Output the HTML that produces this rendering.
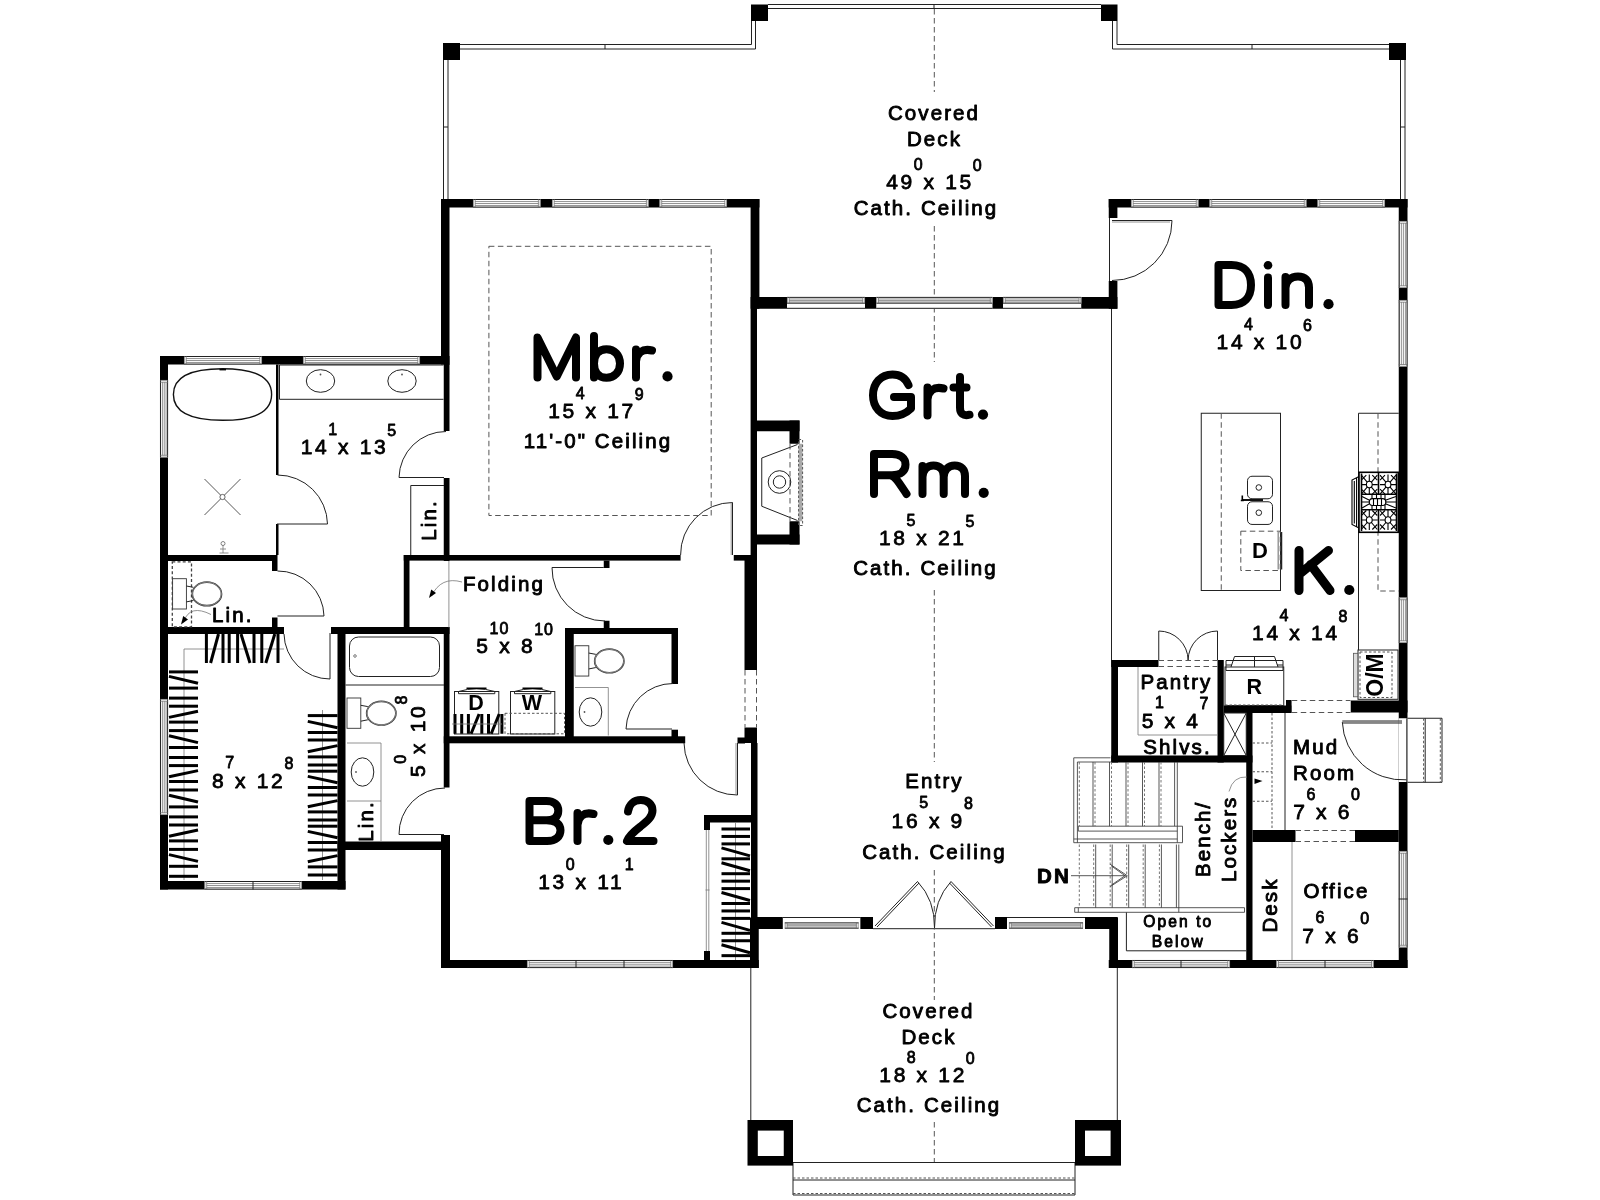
<!DOCTYPE html>
<html><head><meta charset="utf-8"><title>Floor Plan</title>
<style>
html,body{margin:0;padding:0;background:#fff;}
body{width:1600px;height:1200px;overflow:hidden;font-family:"Liberation Sans",sans-serif;}
svg{display:block;will-change:transform}
.w{fill:#000}
.wf{fill:#fff}
.t{stroke:#222;stroke-width:1;fill:none}
.t2{stroke:#000;stroke-width:1.6;fill:none}
.g{stroke:#777;stroke-width:0.8;fill:none}
.wl{stroke:#666;stroke-width:0.7;fill:none}
.st{stroke:#3a3a3a;stroke-width:0.85;fill:none}
.sd{stroke:#666;stroke-width:0.9;fill:none;stroke-dasharray:2.5 2}
.d{stroke:#555;stroke-width:1;fill:none;stroke-dasharray:5.5 3.5}
.ds{stroke:#555;stroke-width:1;fill:none;stroke-dasharray:2.5 2}
.h{stroke:#000;stroke-width:3;fill:none}
text{font-family:"Liberation Sans",sans-serif;fill:#000}
.tx{stroke:#000;stroke-width:0.9;letter-spacing:2.1px;stroke-linejoin:round}
.dm{stroke:#000;stroke-width:0.8;stroke-linejoin:round}
.bd{font-weight:bold}
.big{stroke:#000;stroke-width:2.6;stroke-linejoin:round;stroke-linecap:round}
.tb{stroke:#111;stroke-width:1.4;fill:none}
.fa{stroke:#111;stroke-width:2;fill:none}
.rw{stroke:#000;stroke-width:1.1;fill:none}
.gf{fill:#aaa}
</style></head><body>
<svg width="1600" height="1200" viewBox="0 0 1600 1200">
<rect x="0" y="0" width="1600" height="1200" fill="#fff"/>
<rect class="wf" x="768.00" y="4.50" width="333.00" height="4.00"/>
<line class="t" x1="768.00" y1="4.50" x2="1101.00" y2="4.50"/>
<line class="t" x1="768.00" y1="8.50" x2="1101.00" y2="8.50"/>
<line class="t" x1="934.00" y1="4.50" x2="934.00" y2="8.50"/>
<path class="t" d="M460 44.5 H751.5 V21 M755.5 21 V49 H460"/>
<line class="t" x1="605.00" y1="44.50" x2="605.00" y2="49.00"/>
<path class="t" d="M1389 44.5 H1117 V21 M1112.5 21 V49 H1389"/>
<line class="t" x1="1252.00" y1="44.50" x2="1252.00" y2="49.00"/>
<path class="t" d="M443.5 60 V199 M448 60 V199"/>
<line class="t" x1="443.50" y1="127.00" x2="448.00" y2="127.00"/>
<path class="t" d="M1400.5 60 V199 M1405 60 V199"/>
<line class="t" x1="1400.50" y1="127.00" x2="1405.00" y2="127.00"/>
<line class="d" x1="934.30" y1="9.00" x2="934.30" y2="92.00"/>
<line class="d" x1="934.30" y1="226.00" x2="934.30" y2="362.00"/>
<line class="d" x1="934.30" y1="590.00" x2="934.30" y2="762.00"/>
<line class="d" x1="934.30" y1="870.00" x2="934.30" y2="1000.00"/>
<line class="d" x1="934.30" y1="1122.00" x2="934.30" y2="1162.00"/>
<line class="t" x1="750.80" y1="968.00" x2="750.80" y2="1120.00"/>
<line class="t" x1="1117.30" y1="968.00" x2="1117.30" y2="1120.00"/>
<path class="t" d="M793 1162.5 H1075 M793 1162.5 V1195 H1075 V1162.5 M793 1180 H1075"/>
<line class="ds" x1="793.00" y1="1178.00" x2="1075.00" y2="1178.00"/>
<line class="ds" x1="793.00" y1="1193.50" x2="1075.00" y2="1193.50"/>
<line class="t" x1="1111.50" y1="308.00" x2="1111.50" y2="660.00"/>
<rect class="w" x="160.00" y="356.00" width="289.50" height="8.50"/>
<rect class="w" x="160.00" y="356.00" width="8.00" height="533.50"/>
<rect class="w" x="168.00" y="555.00" width="109.50" height="6.00"/>
<rect class="w" x="272.00" y="561.00" width="5.50" height="10.00"/>
<rect class="w" x="160.00" y="627.00" width="124.00" height="7.00"/>
<rect class="w" x="272.00" y="617.50" width="5.50" height="9.50"/>
<rect class="w" x="160.00" y="881.00" width="185.50" height="8.50"/>
<rect class="w" x="337.50" y="627.00" width="8.00" height="262.50"/>
<rect class="w" x="331.00" y="627.00" width="118.50" height="7.00"/>
<rect class="w" x="276.00" y="364.50" width="2.50" height="110.50"/>
<rect class="w" x="276.00" y="524.00" width="2.50" height="31.00"/>
<rect class="w" x="441.00" y="199.00" width="318.40" height="8.50"/>
<rect class="w" x="441.00" y="199.00" width="8.50" height="165.50"/>
<rect class="w" x="443.75" y="364.00" width="5.75" height="67.00"/>
<rect class="w" x="443.75" y="478.00" width="5.75" height="83.00"/>
<rect class="w" x="750.60" y="199.00" width="8.80" height="109.75"/>
<rect class="w" x="750.60" y="297.00" width="6.40" height="258.00"/>
<rect class="w" x="744.50" y="555.00" width="12.50" height="115.00"/>
<rect class="w" x="744.50" y="727.50" width="12.50" height="15.50"/>
<rect class="w" x="737.50" y="737.50" width="7.50" height="6.00"/>
<rect class="w" x="751.00" y="743.00" width="6.50" height="178.00"/>
<rect class="w" x="403.75" y="555.00" width="276.85" height="5.60"/>
<rect class="w" x="733.75" y="555.00" width="17.25" height="5.60"/>
<rect class="w" x="403.75" y="555.00" width="5.75" height="79.00"/>
<rect class="w" x="443.75" y="627.00" width="5.75" height="160.50"/>
<rect class="w" x="443.75" y="736.30" width="241.45" height="7.00"/>
<rect class="w" x="565.00" y="628.00" width="8.75" height="115.00"/>
<rect class="w" x="565.00" y="628.00" width="113.00" height="6.00"/>
<rect class="w" x="671.50" y="628.00" width="6.50" height="56.00"/>
<rect class="w" x="671.50" y="729.70" width="6.50" height="13.30"/>
<rect class="w" x="603.75" y="560.60" width="5.75" height="7.40"/>
<rect class="w" x="603.75" y="620.75" width="5.75" height="7.25"/>
<rect class="w" x="337.50" y="841.50" width="112.00" height="8.50"/>
<rect class="w" x="441.00" y="835.00" width="9.00" height="133.00"/>
<rect class="w" x="441.00" y="960.00" width="317.75" height="8.00"/>
<rect class="w" x="750.00" y="917.50" width="8.75" height="50.50"/>
<rect class="w" x="704.00" y="815.00" width="47.00" height="7.50"/>
<rect class="w" x="704.00" y="815.00" width="6.00" height="15.00"/>
<rect class="w" x="704.00" y="951.00" width="6.00" height="9.00"/>
<rect class="w" x="757.00" y="297.00" width="360.40" height="11.75"/>
<rect class="w" x="757.00" y="420.50" width="42.50" height="10.75"/>
<rect class="w" x="789.50" y="420.50" width="10.00" height="23.25"/>
<rect class="w" x="757.00" y="534.50" width="42.50" height="10.00"/>
<rect class="w" x="789.50" y="521.25" width="10.00" height="23.25"/>
<rect class="w" x="757.00" y="917.00" width="360.00" height="12.00"/>
<rect class="w" x="1086.25" y="917.50" width="31.75" height="11.00"/>
<rect class="w" x="1109.25" y="917.50" width="8.75" height="50.50"/>
<rect class="w" x="1108.75" y="199.00" width="298.75" height="8.50"/>
<rect class="w" x="1108.75" y="199.00" width="8.65" height="19.00"/>
<rect class="w" x="1108.75" y="281.00" width="8.65" height="27.75"/>
<rect class="w" x="1398.75" y="199.00" width="8.75" height="769.00"/>
<rect class="w" x="1111.25" y="660.00" width="47.25" height="7.00"/>
<rect class="w" x="1111.25" y="660.00" width="6.75" height="102.50"/>
<rect class="w" x="1217.50" y="660.00" width="6.25" height="102.50"/>
<rect class="w" x="1111.25" y="755.50" width="141.25" height="7.00"/>
<rect class="w" x="1223.75" y="705.50" width="68.00" height="7.50"/>
<rect class="w" x="1286.00" y="700.00" width="5.75" height="13.00"/>
<rect class="w" x="1350.50" y="700.50" width="57.00" height="12.00"/>
<rect class="w" x="1246.25" y="713.00" width="6.25" height="255.00"/>
<rect class="w" x="1252.50" y="830.00" width="43.00" height="12.00"/>
<rect class="w" x="1355.00" y="830.00" width="43.75" height="12.00"/>
<rect class="w" x="1108.75" y="960.00" width="298.75" height="8.00"/>
<rect class="w" x="751.00" y="4.50" width="17.00" height="16.50"/>
<rect class="w" x="1101.00" y="4.50" width="16.50" height="16.50"/>
<rect class="w" x="443.00" y="43.00" width="17.00" height="17.00"/>
<rect class="w" x="1389.00" y="43.00" width="17.00" height="17.00"/>
<rect class="w" x="747.50" y="1120.00" width="45.50" height="45.60"/>
<rect class="wf" x="757.80" y="1130.60" width="25.95" height="25.40"/>
<rect class="w" x="1075.00" y="1120.00" width="46.00" height="45.60"/>
<rect class="wf" x="1085.00" y="1130.60" width="25.60" height="25.40"/>
<rect class="wf" x="184.00" y="356.00" width="78.00" height="8.50"/>
<line class="t" x1="184.00" y1="356.51" x2="262.00" y2="356.51"/>
<line class="wl" x1="186.20" y1="358.55" x2="259.80" y2="358.55"/>
<line class="wl" x1="186.20" y1="360.50" x2="259.80" y2="360.50"/>
<line class="wl" x1="186.20" y1="362.46" x2="259.80" y2="362.46"/>
<line class="t" x1="184.00" y1="364.07" x2="262.00" y2="364.07"/>
<line class="wl" x1="184.40" y1="356.00" x2="184.40" y2="364.50"/>
<line class="wl" x1="261.60" y1="356.00" x2="261.60" y2="364.50"/>
<line class="wl" x1="186.20" y1="356.00" x2="186.20" y2="364.50"/>
<line class="wl" x1="259.80" y1="356.00" x2="259.80" y2="364.50"/>
<rect class="wf" x="303.00" y="356.00" width="117.00" height="8.50"/>
<line class="t" x1="303.00" y1="356.51" x2="420.00" y2="356.51"/>
<line class="wl" x1="305.20" y1="358.55" x2="417.80" y2="358.55"/>
<line class="wl" x1="305.20" y1="360.50" x2="417.80" y2="360.50"/>
<line class="wl" x1="305.20" y1="362.46" x2="417.80" y2="362.46"/>
<line class="t" x1="303.00" y1="364.07" x2="420.00" y2="364.07"/>
<line class="wl" x1="303.40" y1="356.00" x2="303.40" y2="364.50"/>
<line class="wl" x1="419.60" y1="356.00" x2="419.60" y2="364.50"/>
<line class="wl" x1="305.20" y1="356.00" x2="305.20" y2="364.50"/>
<line class="wl" x1="417.80" y1="356.00" x2="417.80" y2="364.50"/>
<rect class="wf" x="160.00" y="380.00" width="8.00" height="77.50"/>
<line class="t" x1="160.48" y1="380.00" x2="160.48" y2="457.50"/>
<line class="wl" x1="162.40" y1="382.20" x2="162.40" y2="455.30"/>
<line class="wl" x1="164.24" y1="382.20" x2="164.24" y2="455.30"/>
<line class="wl" x1="166.08" y1="382.20" x2="166.08" y2="455.30"/>
<line class="t" x1="167.60" y1="380.00" x2="167.60" y2="457.50"/>
<line class="wl" x1="160.00" y1="380.40" x2="168.00" y2="380.40"/>
<line class="wl" x1="160.00" y1="457.10" x2="168.00" y2="457.10"/>
<line class="wl" x1="160.00" y1="382.20" x2="168.00" y2="382.20"/>
<line class="wl" x1="160.00" y1="455.30" x2="168.00" y2="455.30"/>
<rect class="wf" x="160.00" y="699.00" width="8.00" height="116.00"/>
<line class="t" x1="160.48" y1="699.00" x2="160.48" y2="815.00"/>
<line class="wl" x1="162.40" y1="701.20" x2="162.40" y2="812.80"/>
<line class="wl" x1="164.24" y1="701.20" x2="164.24" y2="812.80"/>
<line class="wl" x1="166.08" y1="701.20" x2="166.08" y2="812.80"/>
<line class="t" x1="167.60" y1="699.00" x2="167.60" y2="815.00"/>
<line class="wl" x1="160.00" y1="699.40" x2="168.00" y2="699.40"/>
<line class="wl" x1="160.00" y1="814.60" x2="168.00" y2="814.60"/>
<line class="wl" x1="160.00" y1="701.20" x2="168.00" y2="701.20"/>
<line class="wl" x1="160.00" y1="812.80" x2="168.00" y2="812.80"/>
<rect class="wf" x="204.50" y="881.00" width="97.50" height="8.50"/>
<line class="t" x1="204.50" y1="881.51" x2="302.00" y2="881.51"/>
<line class="wl" x1="206.70" y1="883.55" x2="299.80" y2="883.55"/>
<line class="wl" x1="206.70" y1="885.50" x2="299.80" y2="885.50"/>
<line class="wl" x1="206.70" y1="887.46" x2="299.80" y2="887.46"/>
<line class="t" x1="204.50" y1="889.08" x2="302.00" y2="889.08"/>
<line class="wl" x1="204.90" y1="881.00" x2="204.90" y2="889.50"/>
<line class="wl" x1="301.60" y1="881.00" x2="301.60" y2="889.50"/>
<line class="wl" x1="206.70" y1="881.00" x2="206.70" y2="889.50"/>
<line class="wl" x1="299.80" y1="881.00" x2="299.80" y2="889.50"/>
<line class="t" x1="253.00" y1="881.00" x2="253.00" y2="889.50"/>
<rect class="wf" x="473.00" y="199.00" width="67.60" height="8.50"/>
<line class="t" x1="473.00" y1="199.51" x2="540.60" y2="199.51"/>
<line class="wl" x1="475.20" y1="201.55" x2="538.40" y2="201.55"/>
<line class="wl" x1="475.20" y1="203.50" x2="538.40" y2="203.50"/>
<line class="wl" x1="475.20" y1="205.46" x2="538.40" y2="205.46"/>
<line class="t" x1="473.00" y1="207.07" x2="540.60" y2="207.07"/>
<line class="wl" x1="473.40" y1="199.00" x2="473.40" y2="207.50"/>
<line class="wl" x1="540.20" y1="199.00" x2="540.20" y2="207.50"/>
<line class="wl" x1="475.20" y1="199.00" x2="475.20" y2="207.50"/>
<line class="wl" x1="538.40" y1="199.00" x2="538.40" y2="207.50"/>
<rect class="wf" x="552.00" y="199.00" width="96.60" height="8.50"/>
<line class="t" x1="552.00" y1="199.51" x2="648.60" y2="199.51"/>
<line class="wl" x1="554.20" y1="201.55" x2="646.40" y2="201.55"/>
<line class="wl" x1="554.20" y1="203.50" x2="646.40" y2="203.50"/>
<line class="wl" x1="554.20" y1="205.46" x2="646.40" y2="205.46"/>
<line class="t" x1="552.00" y1="207.07" x2="648.60" y2="207.07"/>
<line class="wl" x1="552.40" y1="199.00" x2="552.40" y2="207.50"/>
<line class="wl" x1="648.20" y1="199.00" x2="648.20" y2="207.50"/>
<line class="wl" x1="554.20" y1="199.00" x2="554.20" y2="207.50"/>
<line class="wl" x1="646.40" y1="199.00" x2="646.40" y2="207.50"/>
<rect class="wf" x="659.50" y="199.00" width="67.50" height="8.50"/>
<line class="t" x1="659.50" y1="199.51" x2="727.00" y2="199.51"/>
<line class="wl" x1="661.70" y1="201.55" x2="724.80" y2="201.55"/>
<line class="wl" x1="661.70" y1="203.50" x2="724.80" y2="203.50"/>
<line class="wl" x1="661.70" y1="205.46" x2="724.80" y2="205.46"/>
<line class="t" x1="659.50" y1="207.07" x2="727.00" y2="207.07"/>
<line class="wl" x1="659.90" y1="199.00" x2="659.90" y2="207.50"/>
<line class="wl" x1="726.60" y1="199.00" x2="726.60" y2="207.50"/>
<line class="wl" x1="661.70" y1="199.00" x2="661.70" y2="207.50"/>
<line class="wl" x1="724.80" y1="199.00" x2="724.80" y2="207.50"/>
<rect class="wf" x="527.00" y="960.00" width="146.00" height="8.00"/>
<line class="t" x1="527.00" y1="960.48" x2="673.00" y2="960.48"/>
<line class="wl" x1="529.20" y1="962.40" x2="670.80" y2="962.40"/>
<line class="wl" x1="529.20" y1="964.24" x2="670.80" y2="964.24"/>
<line class="wl" x1="529.20" y1="966.08" x2="670.80" y2="966.08"/>
<line class="t" x1="527.00" y1="967.60" x2="673.00" y2="967.60"/>
<line class="wl" x1="527.40" y1="960.00" x2="527.40" y2="968.00"/>
<line class="wl" x1="672.60" y1="960.00" x2="672.60" y2="968.00"/>
<line class="wl" x1="529.20" y1="960.00" x2="529.20" y2="968.00"/>
<line class="wl" x1="670.80" y1="960.00" x2="670.80" y2="968.00"/>
<line class="t" x1="576.00" y1="960.00" x2="576.00" y2="968.00"/>
<line class="t" x1="624.00" y1="960.00" x2="624.00" y2="968.00"/>
<rect class="wf" x="787.00" y="297.00" width="78.00" height="11.75"/>
<rect class="wf" x="787.00" y="297.00" width="78.00" height="6.50"/>
<line class="t" x1="787.00" y1="297.39" x2="865.00" y2="297.39"/>
<line class="wl" x1="789.20" y1="298.95" x2="862.80" y2="298.95"/>
<line class="wl" x1="789.20" y1="300.44" x2="862.80" y2="300.44"/>
<line class="wl" x1="789.20" y1="301.94" x2="862.80" y2="301.94"/>
<line class="t" x1="787.00" y1="303.18" x2="865.00" y2="303.18"/>
<line class="wl" x1="787.40" y1="297.00" x2="787.40" y2="303.50"/>
<line class="wl" x1="864.60" y1="297.00" x2="864.60" y2="303.50"/>
<line class="wl" x1="789.20" y1="297.00" x2="789.20" y2="303.50"/>
<line class="wl" x1="862.80" y1="297.00" x2="862.80" y2="303.50"/>
<line class="t" x1="787.00" y1="308.30" x2="865.00" y2="308.30"/>
<rect class="wf" x="876.25" y="297.00" width="116.25" height="11.75"/>
<rect class="wf" x="876.25" y="297.00" width="116.25" height="6.50"/>
<line class="t" x1="876.25" y1="297.39" x2="992.50" y2="297.39"/>
<line class="wl" x1="878.45" y1="298.95" x2="990.30" y2="298.95"/>
<line class="wl" x1="878.45" y1="300.44" x2="990.30" y2="300.44"/>
<line class="wl" x1="878.45" y1="301.94" x2="990.30" y2="301.94"/>
<line class="t" x1="876.25" y1="303.18" x2="992.50" y2="303.18"/>
<line class="wl" x1="876.65" y1="297.00" x2="876.65" y2="303.50"/>
<line class="wl" x1="992.10" y1="297.00" x2="992.10" y2="303.50"/>
<line class="wl" x1="878.45" y1="297.00" x2="878.45" y2="303.50"/>
<line class="wl" x1="990.30" y1="297.00" x2="990.30" y2="303.50"/>
<line class="t" x1="876.25" y1="308.30" x2="992.50" y2="308.30"/>
<rect class="wf" x="1003.00" y="297.00" width="78.25" height="11.75"/>
<rect class="wf" x="1003.00" y="297.00" width="78.25" height="6.50"/>
<line class="t" x1="1003.00" y1="297.39" x2="1081.25" y2="297.39"/>
<line class="wl" x1="1005.20" y1="298.95" x2="1079.05" y2="298.95"/>
<line class="wl" x1="1005.20" y1="300.44" x2="1079.05" y2="300.44"/>
<line class="wl" x1="1005.20" y1="301.94" x2="1079.05" y2="301.94"/>
<line class="t" x1="1003.00" y1="303.18" x2="1081.25" y2="303.18"/>
<line class="wl" x1="1003.40" y1="297.00" x2="1003.40" y2="303.50"/>
<line class="wl" x1="1080.85" y1="297.00" x2="1080.85" y2="303.50"/>
<line class="wl" x1="1005.20" y1="297.00" x2="1005.20" y2="303.50"/>
<line class="wl" x1="1079.05" y1="297.00" x2="1079.05" y2="303.50"/>
<line class="t" x1="1003.00" y1="308.30" x2="1081.25" y2="308.30"/>
<rect class="wf" x="782.80" y="917.00" width="77.80" height="12.00"/>
<line class="t" x1="782.80" y1="917.50" x2="860.60" y2="917.50"/>
<rect class="wf" x="784.80" y="922.50" width="73.80" height="6.00"/>
<line class="t" x1="784.80" y1="922.86" x2="858.60" y2="922.86"/>
<line class="wl" x1="787.00" y1="924.30" x2="856.40" y2="924.30"/>
<line class="wl" x1="787.00" y1="925.68" x2="856.40" y2="925.68"/>
<line class="wl" x1="787.00" y1="927.06" x2="856.40" y2="927.06"/>
<line class="t" x1="784.80" y1="928.20" x2="858.60" y2="928.20"/>
<line class="wl" x1="785.20" y1="922.50" x2="785.20" y2="928.50"/>
<line class="wl" x1="858.20" y1="922.50" x2="858.20" y2="928.50"/>
<line class="wl" x1="787.00" y1="922.50" x2="787.00" y2="928.50"/>
<line class="wl" x1="856.40" y1="922.50" x2="856.40" y2="928.50"/>
<rect class="wf" x="1007.00" y="917.00" width="78.00" height="12.00"/>
<line class="t" x1="1007.00" y1="917.50" x2="1085.00" y2="917.50"/>
<rect class="wf" x="1009.00" y="922.50" width="74.00" height="6.00"/>
<line class="t" x1="1009.00" y1="922.86" x2="1083.00" y2="922.86"/>
<line class="wl" x1="1011.20" y1="924.30" x2="1080.80" y2="924.30"/>
<line class="wl" x1="1011.20" y1="925.68" x2="1080.80" y2="925.68"/>
<line class="wl" x1="1011.20" y1="927.06" x2="1080.80" y2="927.06"/>
<line class="t" x1="1009.00" y1="928.20" x2="1083.00" y2="928.20"/>
<line class="wl" x1="1009.40" y1="922.50" x2="1009.40" y2="928.50"/>
<line class="wl" x1="1082.60" y1="922.50" x2="1082.60" y2="928.50"/>
<line class="wl" x1="1011.20" y1="922.50" x2="1011.20" y2="928.50"/>
<line class="wl" x1="1080.80" y1="922.50" x2="1080.80" y2="928.50"/>
<rect class="wf" x="873.00" y="917.00" width="122.00" height="12.00"/>
<line class="t" x1="873.00" y1="928.70" x2="995.00" y2="928.70"/>
<rect class="w" x="860.60" y="917.00" width="12.40" height="12.00"/>
<rect class="w" x="995.00" y="917.00" width="12.00" height="12.00"/>
<rect class="wf" x="1131.00" y="199.00" width="67.50" height="8.50"/>
<line class="t" x1="1131.00" y1="199.51" x2="1198.50" y2="199.51"/>
<line class="wl" x1="1133.20" y1="201.55" x2="1196.30" y2="201.55"/>
<line class="wl" x1="1133.20" y1="203.50" x2="1196.30" y2="203.50"/>
<line class="wl" x1="1133.20" y1="205.46" x2="1196.30" y2="205.46"/>
<line class="t" x1="1131.00" y1="207.07" x2="1198.50" y2="207.07"/>
<line class="wl" x1="1131.40" y1="199.00" x2="1131.40" y2="207.50"/>
<line class="wl" x1="1198.10" y1="199.00" x2="1198.10" y2="207.50"/>
<line class="wl" x1="1133.20" y1="199.00" x2="1133.20" y2="207.50"/>
<line class="wl" x1="1196.30" y1="199.00" x2="1196.30" y2="207.50"/>
<rect class="wf" x="1209.50" y="199.00" width="97.00" height="8.50"/>
<line class="t" x1="1209.50" y1="199.51" x2="1306.50" y2="199.51"/>
<line class="wl" x1="1211.70" y1="201.55" x2="1304.30" y2="201.55"/>
<line class="wl" x1="1211.70" y1="203.50" x2="1304.30" y2="203.50"/>
<line class="wl" x1="1211.70" y1="205.46" x2="1304.30" y2="205.46"/>
<line class="t" x1="1209.50" y1="207.07" x2="1306.50" y2="207.07"/>
<line class="wl" x1="1209.90" y1="199.00" x2="1209.90" y2="207.50"/>
<line class="wl" x1="1306.10" y1="199.00" x2="1306.10" y2="207.50"/>
<line class="wl" x1="1211.70" y1="199.00" x2="1211.70" y2="207.50"/>
<line class="wl" x1="1304.30" y1="199.00" x2="1304.30" y2="207.50"/>
<rect class="wf" x="1317.50" y="199.00" width="67.50" height="8.50"/>
<line class="t" x1="1317.50" y1="199.51" x2="1385.00" y2="199.51"/>
<line class="wl" x1="1319.70" y1="201.55" x2="1382.80" y2="201.55"/>
<line class="wl" x1="1319.70" y1="203.50" x2="1382.80" y2="203.50"/>
<line class="wl" x1="1319.70" y1="205.46" x2="1382.80" y2="205.46"/>
<line class="t" x1="1317.50" y1="207.07" x2="1385.00" y2="207.07"/>
<line class="wl" x1="1317.90" y1="199.00" x2="1317.90" y2="207.50"/>
<line class="wl" x1="1384.60" y1="199.00" x2="1384.60" y2="207.50"/>
<line class="wl" x1="1319.70" y1="199.00" x2="1319.70" y2="207.50"/>
<line class="wl" x1="1382.80" y1="199.00" x2="1382.80" y2="207.50"/>
<rect class="wf" x="1398.75" y="221.00" width="8.75" height="67.00"/>
<line class="t" x1="1399.28" y1="221.00" x2="1399.28" y2="288.00"/>
<line class="wl" x1="1401.38" y1="223.20" x2="1401.38" y2="285.80"/>
<line class="wl" x1="1403.39" y1="223.20" x2="1403.39" y2="285.80"/>
<line class="wl" x1="1405.40" y1="223.20" x2="1405.40" y2="285.80"/>
<line class="t" x1="1407.06" y1="221.00" x2="1407.06" y2="288.00"/>
<line class="wl" x1="1398.75" y1="221.40" x2="1407.50" y2="221.40"/>
<line class="wl" x1="1398.75" y1="287.60" x2="1407.50" y2="287.60"/>
<line class="wl" x1="1398.75" y1="223.20" x2="1407.50" y2="223.20"/>
<line class="wl" x1="1398.75" y1="285.80" x2="1407.50" y2="285.80"/>
<rect class="wf" x="1398.75" y="300.00" width="8.75" height="66.70"/>
<line class="t" x1="1399.28" y1="300.00" x2="1399.28" y2="366.70"/>
<line class="wl" x1="1401.38" y1="302.20" x2="1401.38" y2="364.50"/>
<line class="wl" x1="1403.39" y1="302.20" x2="1403.39" y2="364.50"/>
<line class="wl" x1="1405.40" y1="302.20" x2="1405.40" y2="364.50"/>
<line class="t" x1="1407.06" y1="300.00" x2="1407.06" y2="366.70"/>
<line class="wl" x1="1398.75" y1="300.40" x2="1407.50" y2="300.40"/>
<line class="wl" x1="1398.75" y1="366.30" x2="1407.50" y2="366.30"/>
<line class="wl" x1="1398.75" y1="302.20" x2="1407.50" y2="302.20"/>
<line class="wl" x1="1398.75" y1="364.50" x2="1407.50" y2="364.50"/>
<rect class="wf" x="1398.75" y="597.50" width="8.75" height="45.50"/>
<line class="t" x1="1399.28" y1="597.50" x2="1399.28" y2="643.00"/>
<line class="wl" x1="1401.38" y1="599.70" x2="1401.38" y2="640.80"/>
<line class="wl" x1="1403.39" y1="599.70" x2="1403.39" y2="640.80"/>
<line class="wl" x1="1405.40" y1="599.70" x2="1405.40" y2="640.80"/>
<line class="t" x1="1407.06" y1="597.50" x2="1407.06" y2="643.00"/>
<line class="wl" x1="1398.75" y1="597.90" x2="1407.50" y2="597.90"/>
<line class="wl" x1="1398.75" y1="642.60" x2="1407.50" y2="642.60"/>
<line class="wl" x1="1398.75" y1="599.70" x2="1407.50" y2="599.70"/>
<line class="wl" x1="1398.75" y1="640.80" x2="1407.50" y2="640.80"/>
<rect class="wf" x="1398.75" y="851.00" width="8.75" height="96.50"/>
<line class="t" x1="1399.28" y1="851.00" x2="1399.28" y2="947.50"/>
<line class="wl" x1="1401.38" y1="853.20" x2="1401.38" y2="945.30"/>
<line class="wl" x1="1403.39" y1="853.20" x2="1403.39" y2="945.30"/>
<line class="wl" x1="1405.40" y1="853.20" x2="1405.40" y2="945.30"/>
<line class="t" x1="1407.06" y1="851.00" x2="1407.06" y2="947.50"/>
<line class="wl" x1="1398.75" y1="851.40" x2="1407.50" y2="851.40"/>
<line class="wl" x1="1398.75" y1="947.10" x2="1407.50" y2="947.10"/>
<line class="wl" x1="1398.75" y1="853.20" x2="1407.50" y2="853.20"/>
<line class="wl" x1="1398.75" y1="945.30" x2="1407.50" y2="945.30"/>
<line class="t" x1="1398.75" y1="899.00" x2="1407.50" y2="899.00"/>
<rect class="wf" x="1132.00" y="960.00" width="98.00" height="8.00"/>
<line class="t" x1="1132.00" y1="960.48" x2="1230.00" y2="960.48"/>
<line class="wl" x1="1134.20" y1="962.40" x2="1227.80" y2="962.40"/>
<line class="wl" x1="1134.20" y1="964.24" x2="1227.80" y2="964.24"/>
<line class="wl" x1="1134.20" y1="966.08" x2="1227.80" y2="966.08"/>
<line class="t" x1="1132.00" y1="967.60" x2="1230.00" y2="967.60"/>
<line class="wl" x1="1132.40" y1="960.00" x2="1132.40" y2="968.00"/>
<line class="wl" x1="1229.60" y1="960.00" x2="1229.60" y2="968.00"/>
<line class="wl" x1="1134.20" y1="960.00" x2="1134.20" y2="968.00"/>
<line class="wl" x1="1227.80" y1="960.00" x2="1227.80" y2="968.00"/>
<line class="t" x1="1181.00" y1="960.00" x2="1181.00" y2="968.00"/>
<rect class="wf" x="1276.25" y="960.00" width="97.50" height="8.00"/>
<line class="t" x1="1276.25" y1="960.48" x2="1373.75" y2="960.48"/>
<line class="wl" x1="1278.45" y1="962.40" x2="1371.55" y2="962.40"/>
<line class="wl" x1="1278.45" y1="964.24" x2="1371.55" y2="964.24"/>
<line class="wl" x1="1278.45" y1="966.08" x2="1371.55" y2="966.08"/>
<line class="t" x1="1276.25" y1="967.60" x2="1373.75" y2="967.60"/>
<line class="wl" x1="1276.65" y1="960.00" x2="1276.65" y2="968.00"/>
<line class="wl" x1="1373.35" y1="960.00" x2="1373.35" y2="968.00"/>
<line class="wl" x1="1278.45" y1="960.00" x2="1278.45" y2="968.00"/>
<line class="wl" x1="1371.55" y1="960.00" x2="1371.55" y2="968.00"/>
<line class="t" x1="1325.00" y1="960.00" x2="1325.00" y2="968.00"/>
<rect class="wf" x="1398.75" y="718.25" width="8.75" height="63.75"/>
<line class="t" x1="1406.80" y1="718.25" x2="1406.80" y2="782.00"/>
<rect class="wf" x="1291.75" y="700.00" width="58.75" height="13.00"/>
<line class="d" x1="1291.75" y1="700.50" x2="1350.50" y2="700.50"/>
<line class="d" x1="1291.75" y1="712.50" x2="1350.50" y2="712.50"/>
<line class="d" x1="1295.50" y1="830.50" x2="1355.00" y2="830.50"/>
<line class="d" x1="1295.50" y1="841.50" x2="1355.00" y2="841.50"/>
<line class="d" x1="1158.50" y1="660.50" x2="1217.50" y2="660.50"/>
<line class="d" x1="1158.50" y1="666.50" x2="1217.50" y2="666.50"/>
<line class="d" x1="745.00" y1="670.00" x2="745.00" y2="727.50"/>
<line class="d" x1="756.50" y1="670.00" x2="756.50" y2="727.50"/>
<path class="t" d="M277 524 H327.5 M327.5 524 A50 50 0 0 0 277.5 475"/>
<path class="t" d="M444 477.5 H399 M399 477.5 A47 47 0 0 1 446 431.5"/>
<path class="t" d="M277.5 616 H324 M324 616 A46 46 0 0 0 277.5 571"/>
<path class="t" d="M330 633 V679 M330 679 A46 46 0 0 1 284 634"/>
<path class="t" d="M732.5 555 V502.5 M732.5 502.5 A52 52 0 0 0 680.6 555"/>
<line class="g" x1="731.20" y1="555.00" x2="731.20" y2="502.50"/>
<path class="t" d="M603.75 567.5 H552 M552 567.5 A53 53 0 0 0 605 621"/>
<path class="t" d="M672 729 H626 M626 729 A47 47 0 0 1 673 683.5"/>
<path class="t" d="M444 834.5 H399 M399 834.5 A46 46 0 0 1 445 788"/>
<path class="t" d="M737.5 743 V795 M737.5 795 A53 53 0 0 1 684 743"/>
<line class="g" x1="736.00" y1="743.00" x2="736.00" y2="795.00"/>
<path class="t" d="M1112 220.5 H1172 M1172 220.5 A60 60 0 0 1 1112 280.5 M1109.5 218 V281"/>
<line class="g" x1="1112.00" y1="222.00" x2="1170.00" y2="222.00"/>
<path class="t" d="M1158.75 660 V631 A29.4 29.4 0 0 1 1188.1 660 M1217.5 660 V631 A29.4 29.4 0 0 0 1188.1 660"/>
<path class="t" d="M1342.3 721 H1402 M1342.3 723 H1402 M1342.3 722 A60.5 60.5 0 0 0 1406.5 779.8"/>
<line class="g" x1="1342.30" y1="722.00" x2="1402.00" y2="722.00"/>
<path class="t" d="M875 926 L917.5 881.5 M877 927 L919 883 M917.5 881.5 Q935 900 934.5 928 M993.5 926 L951 881.5 M991.5 927 L949.5 883 M951 881.5 Q934 900 934.5 928"/>
<path class="tb" d="M173.4 394.5 C173.4 376.5 191 368.7 222.5 368.7 C254 368.7 271.6 376.5 271.6 394.5 C271.6 412.5 254 420.3 222.5 420.3 C191 420.3 173.4 412.5 173.4 394.5 Z"/>
<line class="t2" x1="219.50" y1="369.60" x2="226.00" y2="369.60"/>
<path class="t" d="M443.5 365 H279.5 V399.3 H443.5"/>
<ellipse class="t" cx="320.5" cy="381" rx="14.2" ry="11.3"/><ellipse class="t" cx="402" cy="381" rx="14.2" ry="11.3"/>
<circle cx="320.5" cy="374.5" r="0.9" fill="#555"/><circle cx="402" cy="374.5" r="0.9" fill="#555"/>
<path class="t" d="M444 485.5 H410.75 V555"/>
<path class="st" d="M204.5 479 L240.5 515 M240.5 479 L204.5 515"/>
<circle cx="222.5" cy="497" r="2.6" fill="#fff" stroke="#444" stroke-width="0.8"/>
<path class="g" d="M219.5 553 h9 M223 545 v8 M220 549 h6"/>
<circle cx="223" cy="543.5" r="2" fill="none" stroke="#666" stroke-width="0.8"/>
<rect x="172.3" y="561.8" width="19.2" height="65" fill="none" stroke="#444" stroke-width="1.3" stroke-dasharray="3 2.2"/>
<rect x="172.6" y="578.7" width="13.8" height="30.3" fill="#fff" stroke="#333" stroke-width="0.9"/>
<ellipse cx="206.89999999999998" cy="593.9000000000001" rx="14.6" ry="11.8" fill="#fff" stroke="#333" stroke-width="1.7"/>
<ellipse cx="206.89999999999998" cy="593.9000000000001" rx="14.6" ry="11.8" fill="none" stroke="#ccc" stroke-width="0.5"/>
<path class="t" d="M186.4 586.0 L193.4 587.3000000000001 M186.4 601.9000000000001 L193.4 600.5"/>
<rect x="347" y="698" width="13.8" height="30.3" fill="#fff" stroke="#333" stroke-width="0.9"/>
<ellipse cx="381.3" cy="713.2" rx="14.6" ry="11.8" fill="#fff" stroke="#333" stroke-width="1.7"/>
<ellipse cx="381.3" cy="713.2" rx="14.6" ry="11.8" fill="none" stroke="#ccc" stroke-width="0.5"/>
<path class="t" d="M360.8 705.3 L367.8 706.6 M360.8 721.2 L367.8 719.8"/>
<rect x="575" y="645.75" width="13.8" height="30.3" fill="#fff" stroke="#333" stroke-width="0.9"/>
<ellipse cx="609.3" cy="660.95" rx="14.6" ry="11.8" fill="#fff" stroke="#333" stroke-width="1.7"/>
<ellipse cx="609.3" cy="660.95" rx="14.6" ry="11.8" fill="none" stroke="#ccc" stroke-width="0.5"/>
<path class="t" d="M588.8 653.05 L595.8 654.35 M588.8 668.95 L595.8 667.55"/>
<path class="g" d="M184 880 V649 H284"/>
<line class="g" x1="322.50" y1="710.00" x2="322.50" y2="880.00"/>
<rect class="t" x="349.5" y="637" width="90" height="39.5" rx="9" ry="9"/>
<path class="t" d="M345.5 685 H444"/>
<circle cx="355" cy="656" r="1.3" fill="none" stroke="#444" stroke-width="0.7"/>
<path class="g" d="M347 743 H381 V841 M347 801 H381"/>
<ellipse class="t" cx="362.5" cy="772" rx="11.3" ry="14.2"/><circle cx="356" cy="772" r="0.9" fill="#555"/>
<path class="g" d="M575 687.5 H608.3 V735.5"/>
<ellipse class="t" cx="590.5" cy="712" rx="11.3" ry="14.2"/><circle cx="584.5" cy="712" r="0.9" fill="#555"/>
<line class="g" x1="448.90" y1="561.00" x2="448.90" y2="627.50"/>
<rect class="t" x="454.5" y="691.5" width="44.3" height="42.5"/>
<path class="t" d="M458.5 691.5 Q476.5 686 494.8 691.5 M458.5 691.5 v2.2 h36.3 v-2.2"/>
<line class="t2" x1="466.50" y1="688.30" x2="486.50" y2="688.30"/>
<rect class="t" x="510.5" y="691.5" width="44.3" height="42.5"/>
<path class="t" d="M514.5 691.5 Q532.5 686 550.8 691.5 M514.5 691.5 v2.2 h36.3 v-2.2"/>
<line class="t2" x1="522.50" y1="688.30" x2="542.50" y2="688.30"/>
<rect class="ds" x="505" y="713.3" width="59.5" height="20.5" fill="#fff"/>
<path class="g" d="M706.3 830 V951 M708.8 830 V951"/>
<line class="g" x1="705.50" y1="890.00" x2="709.50" y2="890.00"/>
<line class="g" x1="735.50" y1="822.50" x2="735.50" y2="960.00"/>
<path class="t" d="M797.5 444.5 L761.75 458 V506.25 L797.5 520.5"/>
<rect class="gf" x="798.60" y="443.75" width="3.80" height="77.50"/>
<line class="d" x1="790.00" y1="444.00" x2="790.00" y2="521.00"/>
<rect class="ds" x="798.6" y="439.5" width="4" height="86"/>
<circle class="t" cx="779.5" cy="482" r="11.3"/><circle class="t" cx="779.5" cy="482" r="6.2"/>
<rect class="d" x="488.9" y="246.3" width="222.3" height="269.2"/>
<rect class="t" x="1201.25" y="413.25" width="79.25" height="177.25"/>
<line class="d" x1="1221.25" y1="413.25" x2="1221.25" y2="590.50"/>
<rect class="t" x="1247.5" y="476.25" width="25" height="22.5" rx="4.5"/><rect class="t" x="1247.5" y="501.75" width="25" height="22.7" rx="4.5"/>
<circle class="t" cx="1258.8" cy="487.5" r="2.8"/><circle class="t" cx="1258.8" cy="512.7" r="2.8"/>
<path class="fa" d="M1243 500 H1263"/>
<path class="t2" d="M1240.8 500.5 h3 M1242.3 495.5 v5"/>
<rect class="d" x="1240.8" y="531.2" width="39.4" height="39.3"/>
<line x1="1281.6" y1="532" x2="1281.6" y2="569.5" stroke="#222" stroke-width="1.3"/><line x1="1278.2" y1="532" x2="1278.2" y2="569.5" stroke="#888" stroke-width="1.3"/>
<path class="t" d="M1398.75 413.25 H1358.5 V650"/>
<path class="d" d="M1378 413.25 V591 H1398.75"/>
<rect class="t" x="1358" y="650" width="40" height="49.3" fill="#fff"/>
<rect class="ds" x="1360" y="652" width="32" height="45.5"/>
<rect x="1353.6" y="653.3" width="4.2" height="43.5" fill="#ddd" stroke="#555" stroke-width="0.8"/>
<rect x="1359" y="472.3" width="39.3" height="60" fill="#fff" stroke="#000" stroke-width="1.6"/>
<path class="rw" d="M1359 476.5 L1352 480 V524.5 L1359 528 M1354.3 481 V523.5 M1356.6 478 V527"/>
<path class="t2" d="M1361.5 473.5 V531 M1396.5 473.5 V531 M1361.5 494.3 H1396.5 M1361.5 509.7 H1396.5 M1378.5 473 V494.3 M1378.5 509.7 V532"/>
<path class="rw" d="M1361.3 475.1 L1377.3 494.1 M1377.3 475.1 L1361.3 494.1 M1361.3 484.6 H1377.8 M1369.3 474.6 V494.6 M1361.3 480.1 L1366.3 475.1 M1377.3 480.1 L1372.3 475.1 M1361.3 489.1 L1366.3 494.1 M1377.3 489.1 L1372.3 494.1"/>
<ellipse cx="1369.3" cy="484.6" rx="2.9" ry="3.3" fill="#fff" stroke="#000" stroke-width="1.1"/>
<path class="rw" d="M1380 475.1 L1396 494.1 M1396 475.1 L1380 494.1 M1380 484.6 H1396.5 M1388 474.6 V494.6 M1380 480.1 L1385 475.1 M1396 480.1 L1391 475.1 M1380 489.1 L1385 494.1 M1396 489.1 L1391 494.1"/>
<ellipse cx="1388" cy="484.6" rx="2.9" ry="3.3" fill="#fff" stroke="#000" stroke-width="1.1"/>
<path class="rw" d="M1361.3 510.5 L1377.3 529.5 M1377.3 510.5 L1361.3 529.5 M1361.3 520 H1377.8 M1369.3 510 V530 M1361.3 515.5 L1366.3 510.5 M1377.3 515.5 L1372.3 510.5 M1361.3 524.5 L1366.3 529.5 M1377.3 524.5 L1372.3 529.5"/>
<ellipse cx="1369.3" cy="520" rx="2.9" ry="3.3" fill="#fff" stroke="#000" stroke-width="1.1"/>
<path class="rw" d="M1380 510.5 L1396 529.5 M1396 510.5 L1380 529.5 M1380 520 H1396.5 M1388 510 V530 M1380 515.5 L1385 510.5 M1396 515.5 L1391 510.5 M1380 524.5 L1385 529.5 M1396 524.5 L1391 529.5"/>
<ellipse cx="1388" cy="520" rx="2.9" ry="3.3" fill="#fff" stroke="#000" stroke-width="1.1"/>
<path class="rw" d="M1362 496.5 L1369 500 M1362 508 L1369 504 M1362 502 H1369 M1396 496.5 L1386 500 M1396 508 L1386 504 M1396 502 H1386 M1372 495 V509 M1376.5 495 V509 M1381 495 V509 M1385 495 V509"/>
<rect x="1369.3" y="498.7" width="16.5" height="6.8" rx="3.2" fill="#fff" stroke="#000" stroke-width="1.2"/>
<path class="rw" d="M1373.5 499 V505.5 M1377.5 499 V505.5 M1381.5 499 V505.5"/>
<rect class="t" x="1225" y="667" width="58.75" height="38.5" fill="#fff"/>
<path class="t" d="M1231 667 L1234.5 656.5 H1274.5 L1278 667 M1226 660.5 H1283 V670.5 H1226 Z M1254.5 656.5 V667 M1226 665 H1232 M1277 665 H1283"/>
<line class="ds" x1="1225.00" y1="705.00" x2="1283.75" y2="705.00"/>
<rect class="t" x="1223.75" y="713" width="22.5" height="42.5"/>
<path class="t" d="M1223.75 713 L1246.25 755.5 M1246.25 713 L1223.75 755.5"/>
<path class="g" d="M1138 667 V735 H1217.5"/>
<line class="ds" x1="1272.00" y1="713.00" x2="1272.00" y2="829.00"/>
<line class="t" x1="1285.00" y1="713.00" x2="1285.00" y2="830.00"/>
<line class="ds" x1="1252.50" y1="743.00" x2="1272.00" y2="743.00"/>
<line class="ds" x1="1252.50" y1="771.75" x2="1272.00" y2="771.75"/>
<line class="ds" x1="1252.50" y1="801.25" x2="1272.00" y2="801.25"/>
<line class="g" x1="1292.00" y1="842.00" x2="1292.00" y2="960.00"/>
<path class="t" d="M1126.4 912.3 V950.8 H1246.25"/>
<path class="st" d="M1073.75 842.7 V757.8 H1110.5 M1077.4 842.7 V762 H1111.25"/>
<path class="st" d="M1174.6 762 V826.2 M1177.3 762 V826.2"/>
<path class="st" d="M1078.3 826.2 H1182.5 V842.7 H1177.3 V826.2 M1078.3 826.2 V831.1 H1177.3 M1073.75 839 H1177.3 M1073.75 842.7 H1177.3"/>
<path class="st" d="M1176.4 844.5 V907.7 M1178.8 844.5 V912.3 M1074.7 907.7 H1244.5 V912.3 H1074.7 Z M1078.3 907.7 V912.3"/>
<line class="st" x1="1093.00" y1="762.00" x2="1093.00" y2="826.20"/>
<line class="sd" x1="1095.00" y1="762.00" x2="1095.00" y2="826.20"/>
<line class="st" x1="1109.50" y1="762.00" x2="1109.50" y2="826.20"/>
<line class="sd" x1="1111.50" y1="762.00" x2="1111.50" y2="826.20"/>
<line class="st" x1="1126.00" y1="762.00" x2="1126.00" y2="826.20"/>
<line class="sd" x1="1128.00" y1="762.00" x2="1128.00" y2="826.20"/>
<line class="st" x1="1142.50" y1="762.00" x2="1142.50" y2="826.20"/>
<line class="sd" x1="1144.50" y1="762.00" x2="1144.50" y2="826.20"/>
<line class="st" x1="1159.00" y1="762.00" x2="1159.00" y2="826.20"/>
<line class="sd" x1="1161.00" y1="762.00" x2="1161.00" y2="826.20"/>
<line class="sd" x1="1079.30" y1="762.00" x2="1079.30" y2="826.20"/>
<line class="st" x1="1095.70" y1="844.50" x2="1095.70" y2="907.70"/>
<line class="sd" x1="1093.70" y1="844.50" x2="1093.70" y2="907.70"/>
<line class="st" x1="1112.20" y1="844.50" x2="1112.20" y2="907.70"/>
<line class="sd" x1="1110.20" y1="844.50" x2="1110.20" y2="907.70"/>
<line class="st" x1="1128.70" y1="844.50" x2="1128.70" y2="907.70"/>
<line class="sd" x1="1126.70" y1="844.50" x2="1126.70" y2="907.70"/>
<line class="st" x1="1145.20" y1="844.50" x2="1145.20" y2="907.70"/>
<line class="sd" x1="1143.20" y1="844.50" x2="1143.20" y2="907.70"/>
<line class="st" x1="1161.40" y1="844.50" x2="1161.40" y2="907.70"/>
<line class="sd" x1="1159.40" y1="844.50" x2="1159.40" y2="907.70"/>
<line class="sd" x1="1079.30" y1="844.50" x2="1079.30" y2="907.70"/>
<path class="st" d="M1071 875.7 H1126 M1110.2 864.3 L1127.3 875.7 L1110.2 886.6 M1111.5 866 L1125 875.7 L1111.5 885"/>
<path class="t" d="M1407.5 718.25 H1442 V782.3 H1407.5"/>
<line class="t" x1="1425.20" y1="718.25" x2="1425.20" y2="782.30"/>
<line class="ds" x1="1423.60" y1="718.25" x2="1423.60" y2="782.30"/>
<line class="ds" x1="1440.30" y1="718.25" x2="1440.30" y2="782.30"/>
<line class="h" x1="169.00" y1="671.90" x2="198.00" y2="671.90"/>
<line class="h" x1="169.00" y1="676.40" x2="198.00" y2="683.20"/>
<line class="h" x1="169.00" y1="688.10" x2="198.00" y2="688.10"/>
<line class="h" x1="169.00" y1="698.10" x2="198.00" y2="698.10"/>
<line class="h" x1="169.00" y1="706.20" x2="198.00" y2="706.20"/>
<line class="h" x1="169.00" y1="717.40" x2="198.00" y2="711.20"/>
<line class="h" x1="169.00" y1="722.10" x2="198.00" y2="722.10"/>
<line class="h" x1="169.00" y1="730.60" x2="198.00" y2="730.60"/>
<line class="h" x1="169.00" y1="735.80" x2="198.00" y2="742.60"/>
<line class="h" x1="169.00" y1="747.50" x2="198.00" y2="747.50"/>
<line class="h" x1="169.00" y1="757.50" x2="198.00" y2="757.50"/>
<line class="h" x1="169.00" y1="765.60" x2="198.00" y2="765.60"/>
<line class="h" x1="169.00" y1="776.80" x2="198.00" y2="770.60"/>
<line class="h" x1="169.00" y1="781.50" x2="198.00" y2="781.50"/>
<line class="h" x1="169.00" y1="790.00" x2="198.00" y2="790.00"/>
<line class="h" x1="169.00" y1="795.20" x2="198.00" y2="802.00"/>
<line class="h" x1="169.00" y1="806.90" x2="198.00" y2="806.90"/>
<line class="h" x1="169.00" y1="816.90" x2="198.00" y2="816.90"/>
<line class="h" x1="169.00" y1="825.00" x2="198.00" y2="825.00"/>
<line class="h" x1="169.00" y1="836.20" x2="198.00" y2="830.00"/>
<line class="h" x1="169.00" y1="840.90" x2="198.00" y2="840.90"/>
<line class="h" x1="169.00" y1="849.40" x2="198.00" y2="849.40"/>
<line class="h" x1="169.00" y1="854.60" x2="198.00" y2="861.40"/>
<line class="h" x1="169.00" y1="866.30" x2="198.00" y2="866.30"/>
<line class="h" x1="169.00" y1="876.30" x2="198.00" y2="876.30"/>
<line class="h" x1="307.80" y1="715.60" x2="337.50" y2="715.60"/>
<line class="h" x1="307.80" y1="721.40" x2="337.50" y2="727.80"/>
<line class="h" x1="307.80" y1="732.50" x2="337.50" y2="732.50"/>
<line class="h" x1="307.80" y1="740.00" x2="337.50" y2="740.00"/>
<line class="h" x1="307.80" y1="751.80" x2="337.50" y2="745.60"/>
<line class="h" x1="307.80" y1="756.90" x2="337.50" y2="756.90"/>
<line class="h" x1="307.80" y1="765.00" x2="337.50" y2="765.00"/>
<line class="h" x1="307.80" y1="771.20" x2="337.50" y2="771.20"/>
<line class="h" x1="307.80" y1="776.40" x2="337.50" y2="782.80"/>
<line class="h" x1="307.80" y1="787.50" x2="337.50" y2="787.50"/>
<line class="h" x1="307.80" y1="795.00" x2="337.50" y2="795.00"/>
<line class="h" x1="307.80" y1="806.80" x2="337.50" y2="800.60"/>
<line class="h" x1="307.80" y1="811.90" x2="337.50" y2="811.90"/>
<line class="h" x1="307.80" y1="820.00" x2="337.50" y2="820.00"/>
<line class="h" x1="307.80" y1="826.20" x2="337.50" y2="826.20"/>
<line class="h" x1="307.80" y1="831.40" x2="337.50" y2="837.80"/>
<line class="h" x1="307.80" y1="842.50" x2="337.50" y2="842.50"/>
<line class="h" x1="307.80" y1="850.00" x2="337.50" y2="850.00"/>
<line class="h" x1="307.80" y1="861.80" x2="337.50" y2="855.60"/>
<line class="h" x1="307.80" y1="866.90" x2="337.50" y2="866.90"/>
<line class="h" x1="307.80" y1="875.00" x2="337.50" y2="875.00"/>
<line class="h" x1="206.40" y1="634.00" x2="206.40" y2="663.00"/>
<line class="h" x1="223.00" y1="634.00" x2="223.00" y2="663.00"/>
<line class="h" x1="229.20" y1="634.00" x2="229.20" y2="663.00"/>
<line class="h" x1="237.60" y1="634.00" x2="237.60" y2="663.00"/>
<line class="h" x1="254.00" y1="634.00" x2="254.00" y2="663.00"/>
<line class="h" x1="261.80" y1="634.00" x2="261.80" y2="663.00"/>
<line class="h" x1="278.00" y1="634.00" x2="278.00" y2="663.00"/>
<line class="h" x1="218.50" y1="634.00" x2="210.60" y2="663.00"/>
<line class="h" x1="241.00" y1="634.00" x2="250.00" y2="663.00"/>
<line class="h" x1="274.80" y1="634.00" x2="265.80" y2="663.00"/>
<line class="h" x1="455.00" y1="714.00" x2="455.00" y2="733.75"/>
<line class="h" x1="461.70" y1="714.00" x2="461.70" y2="733.75"/>
<line class="h" x1="468.40" y1="714.00" x2="468.40" y2="733.75"/>
<line class="h" x1="479.10" y1="714.00" x2="471.10" y2="733.75"/>
<line class="h" x1="481.80" y1="714.00" x2="481.80" y2="733.75"/>
<line class="h" x1="488.50" y1="714.00" x2="488.50" y2="733.75"/>
<line class="h" x1="499.20" y1="714.00" x2="491.20" y2="733.75"/>
<line class="h" x1="501.90" y1="714.00" x2="501.90" y2="733.75"/>
<line class="g" x1="452.00" y1="724.00" x2="502.00" y2="724.00"/>
<line class="h" x1="721.50" y1="829.00" x2="750.00" y2="829.00"/>
<line class="h" x1="721.50" y1="836.45" x2="750.00" y2="836.45"/>
<line class="h" x1="721.50" y1="843.90" x2="750.00" y2="843.90"/>
<line class="h" x1="721.50" y1="847.85" x2="750.00" y2="855.85"/>
<line class="h" x1="721.50" y1="858.80" x2="750.00" y2="858.80"/>
<line class="h" x1="721.50" y1="862.75" x2="750.00" y2="870.75"/>
<line class="h" x1="721.50" y1="873.70" x2="750.00" y2="873.70"/>
<line class="h" x1="721.50" y1="881.15" x2="750.00" y2="881.15"/>
<line class="h" x1="721.50" y1="888.60" x2="750.00" y2="888.60"/>
<line class="h" x1="721.50" y1="892.55" x2="750.00" y2="900.55"/>
<line class="h" x1="721.50" y1="903.50" x2="750.00" y2="903.50"/>
<line class="h" x1="721.50" y1="910.95" x2="750.00" y2="910.95"/>
<line class="h" x1="721.50" y1="918.40" x2="750.00" y2="918.40"/>
<line class="h" x1="721.50" y1="922.35" x2="750.00" y2="930.35"/>
<line class="h" x1="721.50" y1="933.30" x2="750.00" y2="933.30"/>
<line class="h" x1="721.50" y1="940.75" x2="750.00" y2="940.75"/>
<line class="h" x1="721.50" y1="944.70" x2="750.00" y2="952.70"/>
<line class="h" x1="721.50" y1="955.65" x2="750.00" y2="955.65"/>
<text class="tx" x="934.0" y="120.0" font-size="20.5" text-anchor="middle">Covered</text>
<text class="tx" x="934.5" y="146.0" font-size="20.5" text-anchor="middle">Deck</text>
<g><text class="dm" x="886.2" y="189.4" font-size="21" letter-spacing="2.7" xml:space="preserve">49 x 15</text><text class="dm" x="913.8" y="170.1" font-size="16" letter-spacing="1">0</text><text class="dm" x="972.8" y="170.9" font-size="16" letter-spacing="1">0</text></g>
<text class="tx" x="926.0" y="215.3" font-size="20.5" text-anchor="middle">Cath. Ceiling</text>
<text class="tx" x="928.5" y="1018.0" font-size="20.5" text-anchor="middle">Covered</text>
<text class="tx" x="929.0" y="1044.0" font-size="20.5" text-anchor="middle">Deck</text>
<g><text class="dm" x="879.3" y="1082.0" font-size="21" letter-spacing="2.7" xml:space="preserve">18 x 12</text><text class="dm" x="906.8" y="1062.7" font-size="16" letter-spacing="1">8</text><text class="dm" x="965.8" y="1063.5" font-size="16" letter-spacing="1">0</text></g>
<text class="tx" x="929.0" y="1112.3" font-size="20.5" text-anchor="middle">Cath. Ceiling</text>
<text class="tx" x="934.5" y="788.0" font-size="20.5" text-anchor="middle">Entry</text>
<g><text class="dm" x="891.6" y="827.5" font-size="21" letter-spacing="2.7" xml:space="preserve">16 x 9</text><text class="dm" x="919.2" y="808.2" font-size="16" letter-spacing="1">5</text><text class="dm" x="963.9" y="809.0" font-size="16" letter-spacing="1">8</text></g>
<text class="tx" x="934.5" y="859.0" font-size="20.5" text-anchor="middle">Cath. Ceiling</text>
<text class="tx" x="925.5" y="575.0" font-size="20.5" text-anchor="middle">Cath. Ceiling</text>
<g><text class="dm" x="878.9" y="545.0" font-size="21" letter-spacing="2.7" xml:space="preserve">18 x 21</text><text class="dm" x="906.4" y="525.7" font-size="16" letter-spacing="1">5</text><text class="dm" x="965.4" y="526.5" font-size="16" letter-spacing="1">5</text></g>
<text class="tx" x="598.0" y="448.0" font-size="20.5" text-anchor="middle">11'-0&quot; Ceiling</text>
<g><text class="dm" x="548.2" y="418.0" font-size="21" letter-spacing="2.7" xml:space="preserve">15 x 17</text><text class="dm" x="575.8" y="398.7" font-size="16" letter-spacing="1">4</text><text class="dm" x="634.8" y="399.5" font-size="16" letter-spacing="1">9</text></g>
<g><text class="dm" x="1216.5" y="349.0" font-size="21" letter-spacing="2.7" xml:space="preserve">14 x 10</text><text class="dm" x="1244.0" y="329.7" font-size="16" letter-spacing="1">4</text><text class="dm" x="1303.0" y="330.5" font-size="16" letter-spacing="1">6</text></g>
<g><text class="dm" x="1252.0" y="640.0" font-size="21" letter-spacing="2.7" xml:space="preserve">14 x 14</text><text class="dm" x="1279.5" y="620.7" font-size="16" letter-spacing="1">4</text><text class="dm" x="1338.5" y="621.5" font-size="16" letter-spacing="1">8</text></g>
<g><text class="dm" x="300.7" y="454.2" font-size="21" letter-spacing="2.7" xml:space="preserve">14 x 13</text><text class="dm" x="328.3" y="434.9" font-size="16" letter-spacing="1">1</text><text class="dm" x="387.3" y="435.8" font-size="16" letter-spacing="1">5</text></g>
<g><text class="dm" x="212.1" y="787.5" font-size="21" letter-spacing="2.7" xml:space="preserve">8 x 12</text><text class="dm" x="225.3" y="768.2" font-size="16" letter-spacing="1">7</text><text class="dm" x="284.4" y="769.0" font-size="16" letter-spacing="1">8</text></g>
<g><text class="dm" x="476.3" y="653.0" font-size="21" letter-spacing="2.7" xml:space="preserve">5 x 8</text><text class="dm" x="489.5" y="633.7" font-size="16" letter-spacing="1">10</text><text class="dm" x="534.2" y="634.5" font-size="16" letter-spacing="1">10</text></g>
<g><text class="dm" x="538.2" y="888.8" font-size="21" letter-spacing="2.7" xml:space="preserve">13 x 11</text><text class="dm" x="565.8" y="869.5" font-size="16" letter-spacing="1">0</text><text class="dm" x="624.8" y="870.2" font-size="16" letter-spacing="1">1</text></g>
<g transform="rotate(-90 425.0 741.0)"><text class="dm" x="389.1" y="741.0" font-size="21" letter-spacing="2.7" xml:space="preserve">5 x 10</text><text class="dm" x="402.3" y="721.7" font-size="16" letter-spacing="1">0</text><text class="dm" x="461.4" y="722.5" font-size="16" letter-spacing="1">8</text></g>
<g><text class="dm" x="1141.7" y="727.5" font-size="21" letter-spacing="2.7" xml:space="preserve">5 x 4</text><text class="dm" x="1154.9" y="708.2" font-size="16" letter-spacing="1">1</text><text class="dm" x="1199.6" y="709.0" font-size="16" letter-spacing="1">7</text></g>
<g><text class="dm" x="1293.2" y="818.8" font-size="21" letter-spacing="2.7" xml:space="preserve">7 x 6</text><text class="dm" x="1306.4" y="799.5" font-size="16" letter-spacing="1">6</text><text class="dm" x="1351.1" y="800.2" font-size="16" letter-spacing="1">0</text></g>
<g><text class="dm" x="1302.3" y="942.5" font-size="21" letter-spacing="2.7" xml:space="preserve">7 x 6</text><text class="dm" x="1315.5" y="923.2" font-size="16" letter-spacing="1">6</text><text class="dm" x="1360.2" y="924.0" font-size="16" letter-spacing="1">0</text></g>
<text class="tx" x="463.0" y="590.5" font-size="20.5" text-anchor="start">Folding</text>
<text class="tx" x="212.0" y="622.0" font-size="20.5" text-anchor="start">Lin.</text>
<text class="tx" x="436.0" y="520.0" font-size="20.5" text-anchor="middle" transform="rotate(-90 436.0 520.0)">Lin.</text>
<text class="tx" x="373.0" y="821.0" font-size="20.5" text-anchor="middle" transform="rotate(-90 373.0 821.0)">Lin.</text>
<text class="tx" x="1176.5" y="688.8" font-size="20.5" text-anchor="middle">Pantry</text>
<text class="tx" x="1177.5" y="753.8" font-size="20.5" text-anchor="middle">Shlvs.</text>
<text class="tx" x="1293.0" y="753.8" font-size="20.5" text-anchor="start">Mud</text>
<text class="tx" x="1293.0" y="780.0" font-size="20.5" text-anchor="start">Room</text>
<text class="tx" x="1336.5" y="897.5" font-size="20.5" text-anchor="middle">Office</text>
<text class="tx" x="1277.0" y="905.0" font-size="20.5" text-anchor="middle" transform="rotate(-90 1277.0 905.0)">Desk</text>
<text class="tx" x="1210.0" y="838.8" font-size="20.5" text-anchor="middle" transform="rotate(-90 1210.0 838.8)">Bench/</text>
<text class="tx" x="1236.5" y="838.8" font-size="20.5" text-anchor="middle" transform="rotate(-90 1236.5 838.8)">Lockers</text>
<text class="tx" x="1178.3" y="926.6" font-size="15.6" text-anchor="middle">Open to</text>
<text class="tx" x="1178.3" y="946.8" font-size="15.6" text-anchor="middle">Below</text>
<text class="tx bd" x="1054.0" y="883.3" font-size="20.5" text-anchor="middle">DN</text>
<text class="bd" x="476.0" y="710.0" font-size="21.5" text-anchor="middle">D</text>
<text class="bd" x="532.0" y="710.0" font-size="21.5" text-anchor="middle">W</text>
<text class="bd" x="1260.0" y="557.5" font-size="22" text-anchor="middle">D</text>
<text class="bd" x="1254.3" y="694.4" font-size="21.5" text-anchor="middle">R</text>
<text class="bd" x="1382.5" y="675.0" font-size="23" text-anchor="middle" transform="rotate(-90 1382.5 675.0)">O/M</text>
<path d="M0 0 V-40 L19.25 -1 L38.5 -40 V0" transform="translate(537.5 377.5) scale(1 1)" fill="none" stroke="#000" stroke-width="8" stroke-linecap="round" stroke-linejoin="round"/>
<path d="M0 -41.5 V0 M0 -14 C0 -23 5 -28.3 12.5 -28.3 C20.5 -28.3 26 -22.5 26 -14 C26 -5.5 20.5 0.3 12.5 0.3 C5 0.3 0 -5 0 -14" transform="translate(594 377.5) scale(1 1)" fill="none" stroke="#000" stroke-width="8" stroke-linecap="round" stroke-linejoin="round"/>
<path d="M0 -28 V0 M0 -16 C0.5 -24 6 -29.5 16 -27" transform="translate(636 377.5) scale(1 1)" fill="none" stroke="#000" stroke-width="8" stroke-linecap="round" stroke-linejoin="round"/>
<circle cx="667.5" cy="376.4" r="5.1" fill="#000"/>
<path d="M35.5 -30.5 C32.5 -37.5 26.5 -41 19.5 -41 C8 -41 0 -32.5 0 -20.3 C0 -8 8 0.5 19.5 0.5 C27 0.5 33.5 -2.5 38 -7 V-18.5 H21" transform="translate(873 415.5) scale(1 1)" fill="none" stroke="#000" stroke-width="8" stroke-linecap="round" stroke-linejoin="round"/>
<path d="M0 -28 V0 M0 -16 C0.5 -24 6 -29.5 16 -27" transform="translate(927.5 415.5) scale(1 1)" fill="none" stroke="#000" stroke-width="8" stroke-linecap="round" stroke-linejoin="round"/>
<path d="M0 -38.5 V-8 C0 -2 3 0.8 9.5 -0.8 M-6.5 -28 H6.5" transform="translate(960 415.5) scale(1 1)" fill="none" stroke="#000" stroke-width="8" stroke-linecap="round" stroke-linejoin="round"/>
<circle cx="983" cy="414.6" r="5.1" fill="#000"/>
<path d="M0 0 V-40 H18 C27 -40 31.5 -35.5 31.5 -29.5 C31.5 -23 27 -18.8 18 -18.8 H0 M16 -18.8 C21.5 -17.5 24 -13 32.5 0" transform="translate(874 494) scale(1 1)" fill="none" stroke="#000" stroke-width="8" stroke-linecap="round" stroke-linejoin="round"/>
<path d="M0 -28 V0 M0 -17 C0.5 -24.5 5 -28.5 11 -28.5 C17.5 -28.5 21.2 -24.5 21.2 -18 V0 M21.2 -17 C21.7 -24.5 26.2 -28.5 32.2 -28.5 C38.7 -28.5 42.5 -24.5 42.5 -18 V0" transform="translate(922.5 494) scale(1 1)" fill="none" stroke="#000" stroke-width="8" stroke-linecap="round" stroke-linejoin="round"/>
<circle cx="983.7" cy="492.8" r="5.1" fill="#000"/>
<path d="M0 0 V-40 H13 C26 -40 32.5 -32 32.5 -20 C32.5 -8 26 0 13 0 Z" transform="translate(1218.5 305) scale(1 1)" fill="none" stroke="#000" stroke-width="8" stroke-linecap="round" stroke-linejoin="round"/>
<path d="M0 -27.5 V0" transform="translate(1268 305) scale(1 1)" fill="none" stroke="#000" stroke-width="8" stroke-linecap="round" stroke-linejoin="round"/>
<circle cx="1268" cy="265.3" r="4.3" fill="#000"/>
<path d="M0 -28 V0 M0 -17 C0.5 -24.5 5.5 -28.5 12.5 -28.5 C19.5 -28.5 23.5 -24.5 23.5 -17.5 V0" transform="translate(1285.5 305) scale(1 1)" fill="none" stroke="#000" stroke-width="8" stroke-linecap="round" stroke-linejoin="round"/>
<circle cx="1328.5" cy="304.2" r="5.1" fill="#000"/>
<path d="M0 0 V-40 M29.5 -40 L0 -16 M11.5 -26 L31 0" transform="translate(1299 590.5) scale(1 1)" fill="none" stroke="#000" stroke-width="9" stroke-linecap="round" stroke-linejoin="round"/>
<circle cx="1349.3" cy="590" r="5.1" fill="#000"/>
<path d="M0 0 V-40 H17 C25 -40 28.8 -35.8 28.8 -30.3 C28.8 -24.5 25 -20.8 17 -20.8 H0 M17 -20.8 C27 -20.8 31 -16.5 31 -10.8 C31 -4.5 26.5 0 17.5 0 H0" transform="translate(529.5 841) scale(1 1)" fill="none" stroke="#000" stroke-width="8" stroke-linecap="round" stroke-linejoin="round"/>
<path d="M0 -28 V0 M0 -16 C0.5 -24 6 -29.5 16 -27" transform="translate(577.5 841) scale(1 1)" fill="none" stroke="#000" stroke-width="8" stroke-linecap="round" stroke-linejoin="round"/>
<circle cx="608.3" cy="840" r="5.1" fill="#000"/>
<path d="M1 -29.5 C1.8 -36.5 7 -41 13.8 -41 C20.8 -41 25.5 -36.5 25.5 -30.5 C25.5 -24.5 21 -20.5 13.5 -14.5 C6 -8.8 1.8 -4.5 0 0 H26.5" transform="translate(627 841) scale(1 1)" fill="none" stroke="#000" stroke-width="8" stroke-linecap="round" stroke-linejoin="round"/>
<path class="g" d="M462 582 Q441 576 431.5 596"/>
<path d="M429 598 L431.2 589.5 L436 593 Z" fill="#000"/>
<path class="g" d="M211 614.5 Q190 604 184 621"/>
<path d="M181 624.5 L183.2 616 L188 619.5 Z" fill="#000"/>
<path class="g" d="M1229 791.5 Q1233 776 1247 777"/>
<path d="M1254.5 778.5 L1262.5 781 L1254.5 784 Z" fill="#000"/>
</svg>
</body></html>
